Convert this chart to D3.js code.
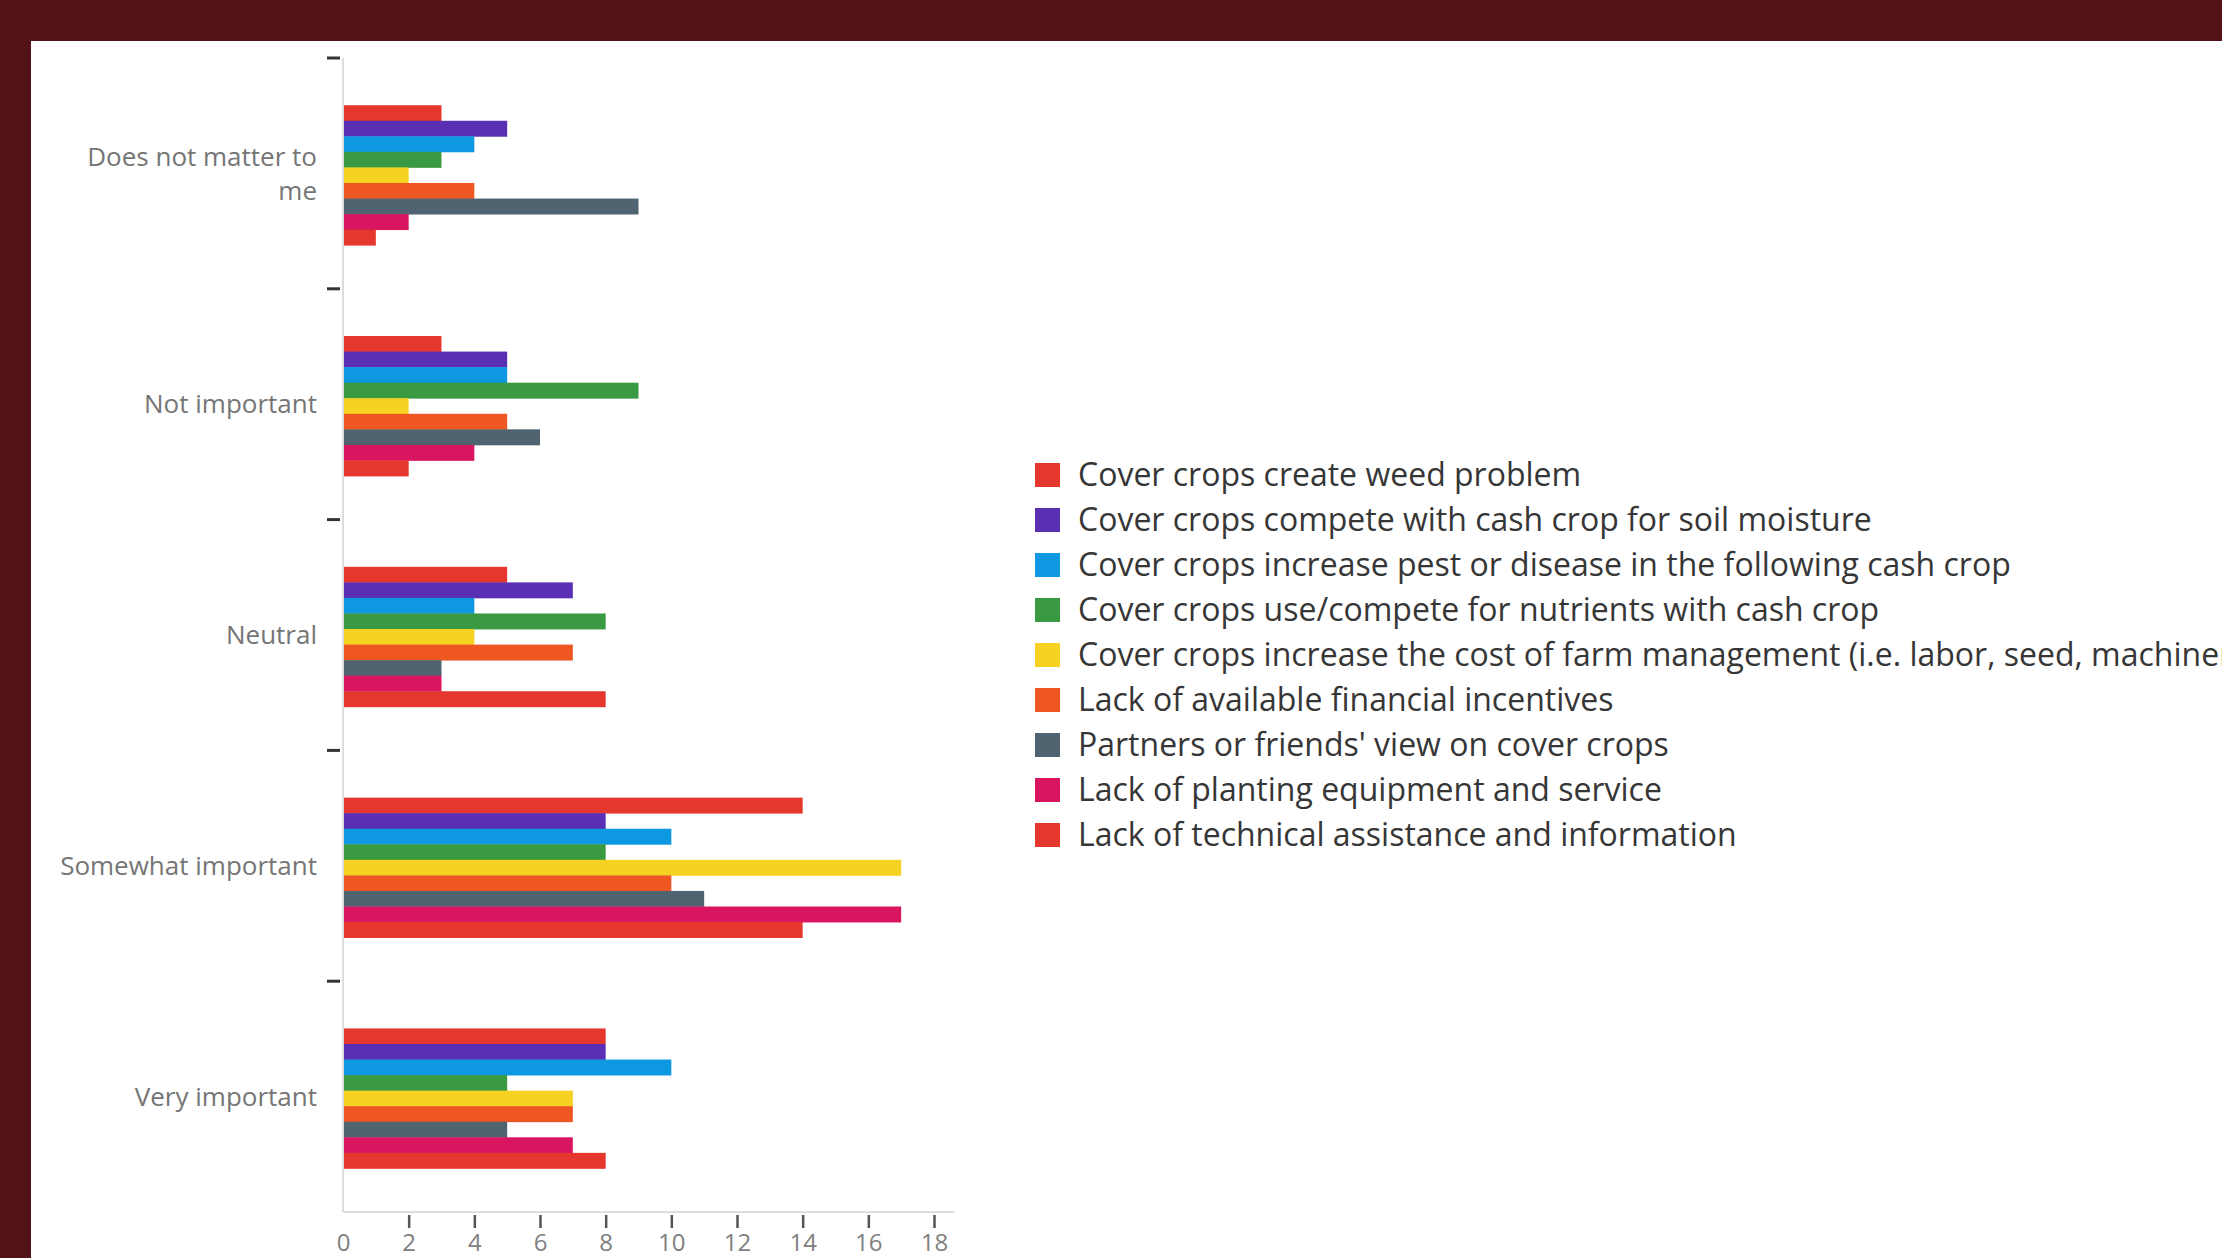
<!DOCTYPE html>
<html>
<head>
<meta charset="utf-8">
<script src="https://cdn.jsdelivr.net/npm/d3@7"></script>
<style>
  html, body { margin: 0; padding: 0; background: #521217; overflow: hidden; }
  svg { display: block; }
</style>
</head>
<body>
<script>
// Importance ratings (rows) for each cover-crop concern (series)
const categories = ["Does not matter to me", "Not important", "Neutral", "Somewhat important", "Very important"];
const categoryLines = [["Does not matter to", "me"], ["Not important"], ["Neutral"], ["Somewhat important"], ["Very important"]];

const seriesNames = [
  "Cover crops create weed problem",
  "Cover crops compete with cash crop for soil moisture",
  "Cover crops increase pest or disease in the following cash crop",
  "Cover crops use/compete for nutrients with cash crop",
  "Cover crops increase the cost of farm management (i.e. labor, seed, machinery)",
  "Lack of available financial incentives",
  "Partners or friends' view on cover crops",
  "Lack of planting equipment and service",
  "Lack of technical assistance and information"
];
const seriesColors = ["#e5372e", "#5a2fb3", "#0f98e2", "#3a9a42", "#f6d222", "#ee5622", "#4f6470", "#da1560", "#e5372e"];

// counts per series, in category order
const weedProblem      = [3, 3, 5, 14, 8];
const soilMoisture     = [5, 5, 7, 8, 8];
const pestDisease      = [4, 5, 4, 10, 10];
const nutrients        = [3, 9, 8, 8, 5];
const managementCost   = [2, 2, 4, 17, 7];
const financialIncent  = [4, 5, 7, 10, 7];
const partnersView     = [9, 6, 3, 11, 5];
const plantingEquip    = [2, 4, 3, 17, 7];
const technicalAssist  = [1, 2, 8, 14, 8];
const seriesValues = [weedProblem, soilMoisture, pestDisease, nutrients, managementCost,
                      financialIncent, partnersView, plantingEquip, technicalAssist];

const xTicks = [0, 2, 4, 6, 8, 10, 12, 14, 16, 18];

const W = 2222, H = 1258;
const svg = d3.select("body").append("svg").attr("width", W).attr("height", H);

// white card on the dark frame
svg.append("rect").attr("x", 31).attr("y", 41).attr("width", W - 31).attr("height", H - 41).attr("fill", "#ffffff");

const plot = { left: 343, right: 934, top: 58, bottom: 1212 };
const x = d3.scaleLinear().domain([0, 18]).range([plot.left, plot.right]);
const y = d3.scaleBand().domain(categories).range([plot.top, plot.bottom]).paddingInner(0).paddingOuter(0);
const yInner = d3.scaleBand().domain(d3.range(seriesNames.length)).range([0, y.bandwidth()])
  .paddingInner(0).paddingOuter(2.92).align(0.52);

const font = "'Open Sans', 'Noto Sans', sans-serif";

// bars
categories.forEach((cat, ci) => {
  const g = svg.append("g").attr("transform", `translate(0,${y(cat)})`);
  g.selectAll("rect")
    .data(seriesValues.map((vals, si) => ({ si, v: vals[ci] })))
    .join("rect")
    .attr("x", x(0))
    .attr("y", d => yInner(d.si))
    .attr("height", yInner.bandwidth() + 0.4)
    .attr("width", d => x(d.v) - x(0))
    .attr("fill", d => seriesColors[d.si]);
});

// y axis: light spine, dark tick dashes at band edges
svg.append("line")
  .attr("x1", plot.left).attr("x2", plot.left)
  .attr("y1", plot.top).attr("y2", plot.bottom)
  .attr("stroke", "#dcdcdc").attr("stroke-width", 2);
svg.selectAll(".ytick")
  .data(categories)
  .join("line")
  .attr("class", "ytick")
  .attr("x1", plot.left - 16).attr("x2", plot.left - 3)
  .attr("y1", d => y(d)).attr("y2", d => y(d))
  .attr("stroke", "#333").attr("stroke-width", 3);

// category labels
categories.forEach((cat, ci) => {
  const lines = categoryLines[ci];
  const cy = y(cat) + y.bandwidth() / 2;
  const lh = 34;
  const t = svg.append("text")
    .attr("x", 317)
    .attr("text-anchor", "end")
    .attr("font-family", font)
    .attr("font-size", 26)
    .attr("fill", "#757575");
  lines.forEach((ln, i) => {
    t.append("tspan")
      .attr("x", 317)
      .attr("y", cy + (i - (lines.length - 1) / 2) * lh)
      .attr("dy", "0.35em")
      .text(ln);
  });
});

// x axis
const xAxis = d3.axisBottom(x).tickValues(xTicks).tickSize(16).tickPadding(6).tickFormat(d3.format("d"));
const xg = svg.append("g").attr("transform", `translate(0,${plot.bottom})`).call(xAxis);
xg.select(".domain").attr("stroke", "#dcdcdc").attr("stroke-width", 2)
  .attr("d", `M${plot.left},0H${plot.right + 20}`);
xg.selectAll(".tick line").attr("stroke", "#555").attr("stroke-width", 2.5)
  .attr("y1", 3)
  .attr("opacity", d => d === 0 ? 0 : 1);
xg.selectAll(".tick text").attr("font-family", font).attr("font-size", 24).attr("fill", "#808080");

// legend
const legend = svg.append("g").attr("transform", "translate(1035,475)");
const rowH = 45;
const item = legend.selectAll("g")
  .data(seriesNames)
  .join("g")
  .attr("transform", (d, i) => `translate(0,${i * rowH})`);
item.append("rect")
  .attr("x", 0).attr("y", -12).attr("width", 25).attr("height", 24)
  .attr("fill", (d, i) => seriesColors[i]);
item.append("text")
  .attr("x", 43).attr("y", 0).attr("dy", "0.35em")
  .attr("font-family", font).attr("font-size", 32)
  .attr("fill", "#363636")
  .text(d => d);
</script>
</body>
</html>
